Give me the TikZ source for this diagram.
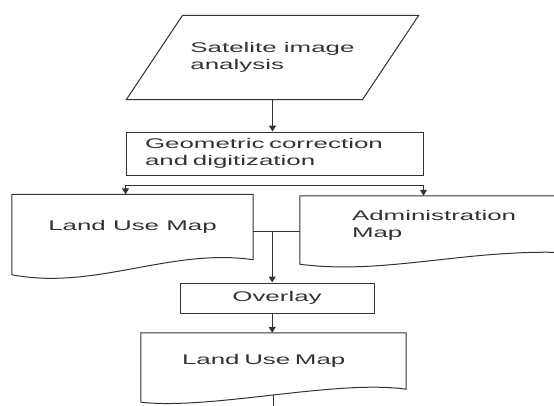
\documentclass[tikz,border=0pt]{standalone}
\usepackage{fontspec}
\setmainfont[FakeStretch=1.85]{Liberation Sans}
\usepackage{tikz}
\usetikzlibrary{shapes.geometric}
\usetikzlibrary{arrows.meta}
\usetikzlibrary{calc}
\definecolor{ink}{HTML}{333333}
\definecolor{txt}{HTML}{333333}
\tikzstyle{flow_text}=[font=\fontsize{14}{17}\selectfont, text=txt]
\tikzstyle{flow_box}=[rectangle, draw=ink, line width=1pt, flow_text]
\tikzstyle{map_doc}=[rectangle, inner sep=0pt, align=left, flow_text]
\tikzstyle{doc_edge}=[draw=ink, line width=1pt]
\tikzstyle{flow_arrow}=[draw=ink, line width=1pt, -{Triangle[length=6pt,width=7pt]}]

\begin{document}
\begin{tikzpicture}[x=1pt, y=-1pt]
  \useasboundingbox (0,0) rectangle (554,405);
  \clip (0,0) rectangle (554,405);
  % input and correction
  \node[trapezium, trapezium left angle=56.3, trapezium right angle=123.7, inner xsep=8pt, inner ysep=27pt, draw=ink, line width=1pt, flow_text, align=left] (sat) at (272.5,57.5) {Satelite image\\analysis};
  \node[flow_box, text width=259pt, inner xsep=19pt, inner ysep=0pt, minimum height=43pt, align=left] (geo) at (274.5,153.5) {Geometric correction\\and digitization};
  \draw[flow_arrow] (sat.south) -- (sat.south |- geo.north);
  % the two maps
  \node[map_doc, minimum width=241pt, minimum height=65pt] (landuse) at (132.5,227) {Land Use Map};
  \draw[doc_edge] (landuse.north west) -- ([yshift=-15pt]landuse.south west) .. controls +(83,16) and +(-83,-12) .. (landuse.south east) -- (landuse.north east) -- cycle;
  \node[map_doc, text width=186pt, inner xsep=52pt, minimum height=58pt] (admin) at (445,225) {Administration\\Map};
  \draw[doc_edge] (admin.north east) -- (admin.north west) -- ([yshift=-10pt]admin.south west) .. controls +(90,12) and +(-110,-10) .. (admin.south east);
  \coordinate (split) at ([yshift=-10pt]geo.south);
  \draw[flow_arrow] (split) -| (geo.south west |- landuse.north);
  \draw[flow_arrow] (split) -| (geo.south east |- admin.north);
  % overlay and result
  \node[flow_box, minimum width=194pt, minimum height=30pt, inner sep=0pt] (overlay) at (277,298) {Overlay};
  \node[map_doc, text width=183pt, inner xsep=41pt, minimum height=56pt] (result) at (273.5,361) {Land Use Map};
  \draw[doc_edge] (result.north west) -- ([yshift=-13pt]result.south west) .. controls +(70,8) and +(-70,-10) .. (result.south east) coordinate[pos=0.5] (result_out) -- (result.north east) -- cycle;
  \coordinate (merge) at ([xshift=19pt,yshift=-4pt]landuse.east);
  \coordinate (sink) at ([yshift=-25pt]result_out);
  \draw[doc_edge] (landuse.east |- merge) -- (admin.west |- merge);
  \draw[flow_arrow] (merge) -- (merge |- overlay.north);
  \draw[flow_arrow] (merge |- overlay.south) -- (merge |- result.north);
  \draw[doc_edge] (result_out) -- (sink);
\end{tikzpicture}
\end{document}
